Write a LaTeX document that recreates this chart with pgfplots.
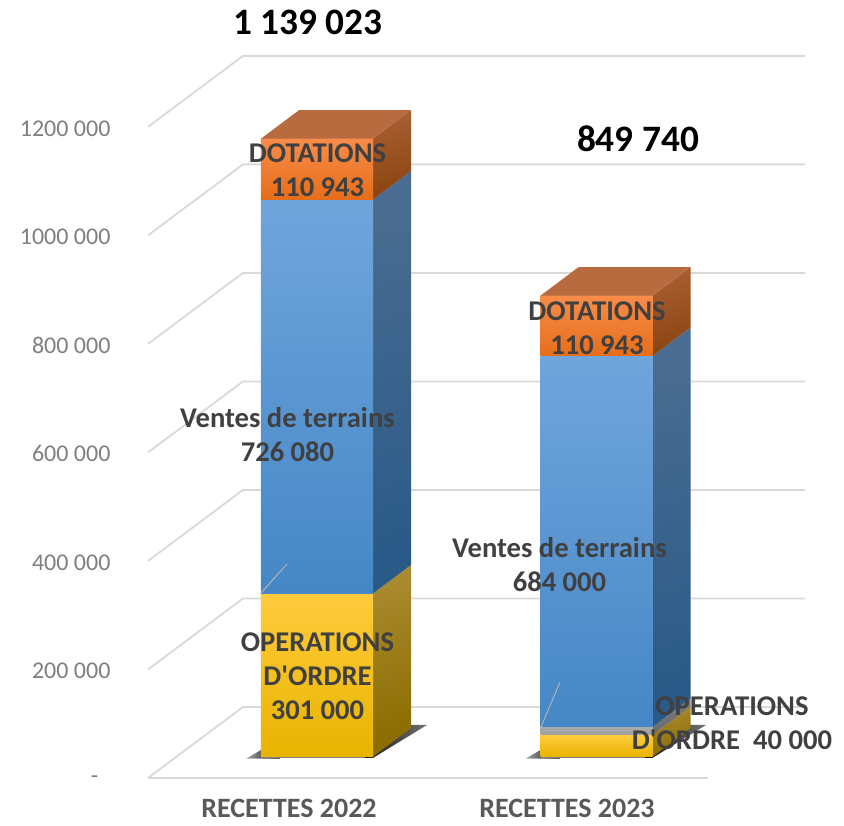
\documentclass[border=0pt]{standalone}
\usepackage{pgfplots}
\pgfplotsset{compat=1.18}
\usepackage{fontspec}
\setmainfont{Carlito}
\definecolor{gridc}{HTML}{D9D9D9}
\definecolor{txt}{HTML}{404040}
\definecolor{tickc}{HTML}{7F7F7F}
\definecolor{xlab}{HTML}{595959}
\definecolor{ot}{HTML}{F88C4A}\definecolor{om}{HTML}{FF7F22}\definecolor{ob}{HTML}{E66E1A}
\definecolor{ost}{HTML}{A85F32}\definecolor{osb}{HTML}{8A4410}\definecolor{otop}{HTML}{B96B40}
\definecolor{bt}{HTML}{70A5DC}\definecolor{bm}{HTML}{5A9BDD}\definecolor{bb}{HTML}{4587C6}
\definecolor{bst}{HTML}{4A6C90}\definecolor{bsb}{HTML}{2A5A88}
\definecolor{yt}{HTML}{FFCB3D}\definecolor{ym}{HTML}{FFC605}\definecolor{yb}{HTML}{E8B400}
\definecolor{yst}{HTML}{A98A2E}\definecolor{ysb}{HTML}{8A6C00}
\definecolor{gt}{HTML}{ABABAB}\definecolor{gb}{HTML}{A0A0A0}
\definecolor{gst}{HTML}{808080}\definecolor{gsb}{HTML}{666666}
% one stacked segment: x0, x1, low, high (thousands), front top/mid/bottom, side top/bottom
\newcommand{\seg}[9]{%
  \pgfmathsetmacro\sa{#3+39.25}\pgfmathsetmacro\sb{#4+39.25}%
  \pgfmathsetmacro\sc{\sa+52.5}\pgfmathsetmacro\sd{\sb+52.5}\pgfmathsetmacro\sx{#2+38}%
  \addplot[draw=none,shade,top color=#8,bottom color=#9,shading angle=15] coordinates {(#2,\sa)(\sx,\sc)(\sx,\sd)(#2,\sb)} --cycle;
  \addplot[draw=none,shade,top color=#5,middle color=#6,bottom color=#7] coordinates {(#1,\sa)(#2,\sa)(#2,\sb)(#1,\sb)} --cycle;
}
\newcommand{\topf}[3]{%
  \pgfmathsetmacro\sb{#3+39.25}\pgfmathsetmacro\sd{\sb+52.5}%
  \pgfmathsetmacro\sx{#2+38}\pgfmathsetmacro\sy{#1+38}%
  \addplot[draw=none,fill=otop] coordinates {(#1,\sb)(#2,\sb)(\sx,\sd)(\sy,\sd)} --cycle;
}
\newcommand{\wall}[1]{%
  \pgfmathsetmacro\sa{#1+130.85}%
  \addplot[gridc,line width=1.8pt] coordinates {(148,#1)(243,\sa)(805,\sa)};
}
\begin{document}
\begin{tikzpicture}
\begin{axis}[
  scale only axis,width=729pt,height=795pt,
  xmin=115,xmax=844,ymin=-31.33,ymax=1433.84,
  clip=false,axis line style={draw=none},tick style={draw=none},
  no markers,
  ytick={0,200,400,600,800,1000,1200},
  yticklabels={-\hphantom{0},200 000,400 000,600 000,800 000,1000 000,1200 000},
  xtick={289,567},
  xticklabels={RECETTES 2022,RECETTES 2023},
  yticklabel style={text=tickc,font=\fontsize{24}{26}\selectfont,xshift=-1pt,yshift=-1.5pt},
  xticklabel style={text=xlab,font=\fontsize{28}{30}\selectfont\bfseries,yshift=-1pt},
]
\path (axis cs:0,-86.7) rectangle (axis cs:844,1433.84);
% walls
\wall{0}\wall{200}\wall{400}\wall{600}\wall{800}\wall{1000}\wall{1200}
\addplot[gridc,line width=1.8pt] coordinates {(148,0)(708,0)};
% shadows
\addplot[draw=none,shade,left color=black!35,right color=black!100] coordinates {(246,35.5)(280,35.5)(280,55)(261,51.6)} --cycle;
\addplot[draw=none,fill=black!50] coordinates {(261,36)(373,36)(373,40)(261,40)} --cycle;
\addplot[draw=none,shade,left color=black!90,right color=black!55] coordinates {(365,37)(373,37)(427,97.7)(411,97.7)(365,60)} --cycle;
\addplot[draw=none,shade,left color=black!35,right color=black!100] coordinates {(525.5,35.5)(560,35.5)(560,55)(540.5,51.6)} --cycle;
\addplot[draw=none,fill=black!50] coordinates {(540.5,36)(652.5,36)(652.5,40)(540.5,40)} --cycle;
\addplot[draw=none,shade,left color=black!90,right color=black!55] coordinates {(645,37)(652.5,37)(706,97.7)(690,97.7)(645,60)} --cycle;
% RECETTES 2022
\seg{261}{373}{0}{301}{yt}{ym}{yb}{yst}{ysb}
\seg{261}{373}{301}{1027.08}{bt}{bm}{bb}{bst}{bsb}
\seg{261}{373}{1027.08}{1139.023}{ot}{om}{ob}{ost}{osb}
\topf{261}{373}{1139.023}
% RECETTES 2023
\seg{540.5}{652.5}{0}{40}{yt}{ym}{yb}{yst}{ysb}
\seg{540.5}{652.5}{40}{54.797}{gt}{gt}{gb}{gst}{gsb}
\seg{540.5}{652.5}{54.797}{738.797}{bt}{bm}{bb}{bst}{bsb}
\seg{540.5}{652.5}{738.797}{849.74}{ot}{om}{ob}{ost}{osb}
\topf{540.5}{652.5}{849.74}
% leader lines
\addplot[color=black!30,line width=1pt] coordinates {(261,341)(287,394.4)};
\addplot[color=black!30,line width=1pt] coordinates {(541,94)(560,176.9)};
% labels
\tikzset{dl/.style={text=txt,font=\fontsize{28.6}{34}\selectfont\bfseries,align=center,inner sep=0pt}}
\node[font=\fontsize{37.3}{40}\selectfont\bfseries,text=black] at (axis cs:308,1393) {1 139 023};
\node[font=\fontsize{37.3}{40}\selectfont\bfseries,text=black] at (axis cs:638,1177.6) {849 740};
\node[dl] at (axis cs:317.5,1120.5) {DOTATIONS\\110 943};
\node[dl] at (axis cs:287.5,632.2) {Ventes de terrains\\726 080};
\node[dl] at (axis cs:317.5,188) {OPERATIONS\\D\textquotesingle ORDRE\\301 000};
\node[dl] at (axis cs:597,829.4) {DOTATIONS\\110 943};
\node[dl] at (axis cs:559.5,392.6) {Ventes de terrains\\684 000};
\node[dl] at (axis cs:732,101.4) {OPERATIONS\\D\textquotesingle ORDRE~~40 000};
\end{axis}
\end{tikzpicture}
\end{document}
